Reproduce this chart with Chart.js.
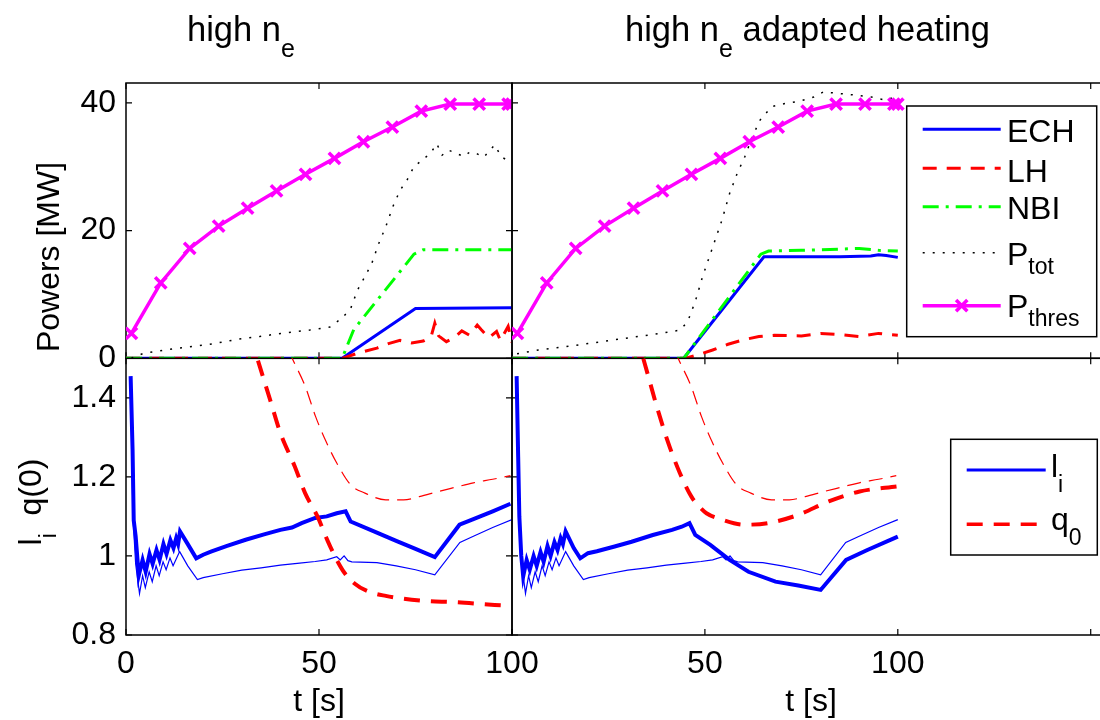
<!DOCTYPE html>
<html>
<head>
<meta charset="utf-8">
<script src="https://cdn.jsdelivr.net/npm/chart.js@4.4.1/dist/chart.umd.min.js"></script>
<style>
html, body { margin:0; padding:0; background:#fff; overflow:hidden; }
#wrap { position:relative; width:1100px; height:720px; overflow:hidden; }
canvas { position:absolute; left:0; top:0; }
.t { position:absolute; font-family:'Liberation Sans', Arial, sans-serif; font-size:32px; line-height:32px; white-space:nowrap; color:#000; }
.ttl { font-size:34.5px; line-height:34.5px; }
.s { font-size:23px; position:relative; line-height:0; }
.ttl .s { font-size:25px; }
.rot { transform-origin:0 0; transform:rotate(-90deg) translateX(-50%); }
.ctr { transform:translateX(-50%); }
</style>
</head>
<body>
<div id="wrap">
<canvas id="tl" width="1100" height="720"></canvas>
<canvas id="tr" width="1120" height="720"></canvas>
<canvas id="bl" width="1100" height="720"></canvas>
<canvas id="br" width="1120" height="720"></canvas>

<div class="t ttl" style="left:187px;top:11.5px">high n<span class="s" style="top:16px">e</span></div>
<div class="t ttl" style="left:625px;top:11.5px">high n<span class="s" style="top:16px">e</span> adapted heating</div>
<div class="t rot" style="left:32px;top:257px">Powers [MW]</div>
<div class="t rot" style="left:14px;top:502px">l<span class="s" style="top:15px">i</span>&nbsp;&nbsp;q(0)</div>
<div class="t ctr" style="left:319px;top:684px">t [s]</div>
<div class="t ctr" style="left:811px;top:684px">t [s]</div>

<div class="t" style="left:1007px;top:114.6px">ECH</div>
<div class="t" style="left:1007px;top:154.6px">LH</div>
<div class="t" style="left:1007px;top:192.2px">NBI</div>
<div class="t" style="left:1007px;top:237.9px">P<span class="s" style="top:9px">tot</span></div>
<div class="t" style="left:1007px;top:289.6px">P<span class="s" style="top:9px">thres</span></div>
<div class="t" style="left:1051px;top:449.6px">l<span class="s" style="top:15px">i</span></div>
<div class="t" style="left:1051px;top:502.9px">q<span class="s" style="top:15px">0</span></div>
</div>

<script>
// ---- data (t in s, powers in MW) ----
var tThres = [1.4, 9, 16.5, 24, 31.5, 39, 46.5, 54, 61.5, 69, 76.5, 84, 91.5, 99, 100];
var pThres = [3.9, 11.8, 17.2, 20.7, 23.5, 26.2, 28.8, 31.3, 33.9, 36.2, 38.7, 39.8, 39.8, 39.8, 39.8];

// left: high ne
var tEchA = [0, 56, 75, 100];
var pEchA = [0, 0, 7.8, 7.9];
var tLhA = [0, 56, 60, 65, 68, 71, 74, 77, 79, 80, 81, 83, 85, 87, 89, 91, 92, 94, 96, 97, 99, 100];
var pLhA = [0, 0, 0.8, 1.6, 2.3, 2.8, 2.4, 2.7, 3.3, 5.5, 3.5, 2.6, 3.2, 4.3, 3.6, 5.2, 4.5, 3.2, 4.2, 2.8, 5.0, 2.5];
var tNbiA = [0, 56, 59, 74.6, 77, 100];
var pNbiA = [0, 0, 4.5, 16.3, 17, 17];
var tTotA = [1.4, 4.6, 10.1, 16.4, 22.8, 29.1, 34.6, 40.1, 47.3, 52.8, 56, 58.2, 60, 61.9, 63.7, 65.5, 67.3, 69.1, 71, 72.8, 74.6, 77.3, 79, 80.5, 81.9, 83.5, 85.5, 87.5, 89.1, 91, 92.7, 94, 95.5, 97.3, 99.5];
var pTotA = [0, 0.8, 1.3, 1.8, 2.3, 3.0, 3.4, 3.9, 4.4, 4.9, 6.3, 7.8, 10.7, 12.8, 14.9, 18, 20.6, 23.7, 26.3, 27.9, 30, 31.3, 32.2, 33.6, 31.8, 32.6, 32.1, 31.6, 32.3, 32, 31.5, 32.4, 33.4, 31.5, 30.8];

// right: high ne adapted heating
var tEchB = [0, 44.5, 65.3, 75, 85, 93, 95, 97, 100];
var pEchB = [0, 0, 15.9, 15.9, 15.9, 16.0, 16.2, 16.1, 15.8];
var tLhB = [0, 45, 48, 52, 56, 60, 64, 68, 75, 80, 85, 90, 95, 100];
var pLhB = [0, 0, 0.5, 1.3, 2.2, 2.9, 3.4, 3.6, 3.5, 3.9, 3.7, 3.4, 3.9, 3.6];
var tNbiB = [0, 44.5, 64.5, 66.5, 75, 85, 90, 95, 100];
var pNbiB = [0, 0, 16.3, 16.8, 16.9, 17.1, 17.2, 16.9, 16.8];
var tTotB = [1.3, 6.8, 13.7, 19.7, 26.6, 32.6, 38.5, 43.5, 45.5, 47.5, 49.4, 51.9, 54.4, 56.4, 58.4, 60.3, 62.3, 64.3, 67.3, 70.8, 74.2, 78.2, 80.7, 84.1, 89.1, 93.1, 97, 99];
var pTotB = [0.7, 1.3, 1.8, 2.3, 2.9, 3.4, 3.9, 4.4, 5.7, 8.9, 12.8, 17.2, 21.6, 25.8, 29, 31.5, 34.7, 37.3, 39.4, 39.9, 40.2, 40.9, 41.7, 41.5, 41.2, 40.9, 40.4, 40.9];

// bottom: reference run (thin lines, same in both columns)
var tLiRef = [1.2, 1.8, 2.5, 3.5, 4.3, 5.0, 6.0, 6.8, 7.8, 8.6, 9.6, 10.4, 11.4, 12.2, 13.9, 16, 18.5, 20, 25, 30, 35, 40, 45, 49, 52, 54.6, 55.5, 56.5, 57.5, 58.5, 65, 70, 75, 80, 86.5, 90, 95, 100];
var liRef = [1.44, 1.1, 0.98, 0.905, 0.95, 0.92, 0.96, 0.935, 0.975, 0.95, 0.985, 0.965, 0.995, 0.975, 1.011, 0.975, 0.94, 0.945, 0.955, 0.964, 0.97, 0.977, 0.982, 0.986, 0.99, 0.998, 0.99, 1.0, 0.988, 0.985, 0.983, 0.975, 0.965, 0.952, 1.034, 1.05, 1.072, 1.092];
var tQRef = [40, 43.2, 46.4, 49.1, 51.8, 54.6, 58.2, 61.9, 67.3, 71.9, 76, 80.9, 85, 90, 95, 99.6];
var qRef = [1.57, 1.497, 1.43, 1.353, 1.29, 1.235, 1.18, 1.159, 1.142, 1.142, 1.15, 1.163, 1.173, 1.185, 1.194, 1.203];

var tLiA = [1.2, 1.7, 2.0, 2.5, 3.3, 4.3, 5.1, 6.1, 6.9, 7.9, 8.7, 9.7, 10.5, 11.5, 12.3, 13.0, 13.5, 14.0, 16, 18.2, 20, 22, 26, 31, 36, 40, 43, 45.5, 49, 52, 54.6, 56.9, 58.2, 65, 70, 75, 80, 86.4, 90, 95, 99.6];
var liA = [1.455, 1.27, 1.09, 1.05, 0.95, 0.99, 0.96, 1.005, 0.98, 1.015, 0.99, 1.03, 1.005, 1.04, 1.02, 1.045, 1.03, 1.062, 1.03, 0.994, 1.003, 1.011, 1.025, 1.041, 1.055, 1.066, 1.072, 1.083, 1.096, 1.1, 1.108, 1.113, 1.087, 1.059, 1.038, 1.018, 0.997, 1.079, 1.093, 1.113, 1.132];
var tQA = [28, 34.1, 37.3, 40, 43.7, 46.4, 49.6, 52.3, 54.6, 56.4, 59.1, 62.8, 67.3, 76.4, 85.5, 95.5, 99.5];
var qA = [1.69, 1.497, 1.396, 1.311, 1.227, 1.159, 1.1, 1.037, 0.99, 0.96, 0.931, 0.91, 0.899, 0.887, 0.883, 0.876, 0.874];

var tLiB = [1.2, 1.6, 1.9, 2.4, 2.9, 3.8, 4.6, 5.6, 6.4, 7.4, 8.2, 9.2, 10.0, 11.0, 11.8, 12.6, 13.2, 13.9, 16, 17.7, 19.7, 22, 26.6, 31, 36.5, 41.5, 44, 46, 47.5, 51.4, 56.4, 61.3, 68.3, 74.2, 80, 86.6, 92.1, 100];
var liB = [1.455, 1.25, 1.1, 1.0, 0.948, 0.99, 0.965, 1.0, 0.975, 1.01, 0.985, 1.025, 1.0, 1.035, 1.015, 1.045, 1.03, 1.062, 1.02, 0.994, 1.007, 1.012, 1.024, 1.036, 1.053, 1.066, 1.074, 1.083, 1.053, 1.028, 0.99, 0.96, 0.935, 0.925, 0.914, 0.99, 1.015, 1.049];
var tQB = [30, 34.1, 37.5, 40.5, 43.5, 46.5, 48.5, 50.4, 54.4, 60.3, 66.3, 74.2, 82.1, 90.1, 100];
var qB = [1.63, 1.497, 1.379, 1.286, 1.21, 1.15, 1.125, 1.108, 1.092, 1.079, 1.083, 1.104, 1.138, 1.163, 1.176];

// ticks
var xTicksL = [0, 50, 100];
var xLabelsL = ['0', '50', '100'];
var xTicksR = [0, 50, 100, 150];
var xLabelsR = ['', '50', '100', ''];
var yTicksP = [0, 20, 40];
var yLabelsP = ['0', '20', '40'];
var yTicksQ = [0.8, 1, 1.2, 1.4];
var yLabelsQ = ['0.8', '1', '1.2', '1.4'];

// ---- helpers ----
var FONT = "'Liberation Sans', Arial, sans-serif";
var TICK = 6;

function pts(t, v) {
  return t.map(function(x, i) { return {x: x, y: v[i]}; });
}

var boxPlugin = {
  id: 'box',
  beforeDatasetsDraw: function(chart) {
    var ctx = chart.ctx, a = chart.chartArea, x = chart.scales.x, y = chart.scales.y;
    ctx.save();
    ctx.strokeStyle = '#000';
    ctx.lineWidth = 1.5;
    ctx.strokeRect(a.left, a.top, a.right - a.left, a.bottom - a.top);
    ctx.beginPath();
    x.ticks.forEach(function(t) {
      var px = x.getPixelForValue(t.value);
      ctx.moveTo(px, a.top); ctx.lineTo(px, a.top + TICK);
      ctx.moveTo(px, a.bottom); ctx.lineTo(px, a.bottom - TICK);
    });
    y.ticks.forEach(function(t) {
      var py = y.getPixelForValue(t.value);
      ctx.moveTo(a.left, py); ctx.lineTo(a.left + TICK, py);
      ctx.moveTo(a.right, py); ctx.lineTo(a.right - TICK, py);
    });
    ctx.lineWidth = 1.2;
    ctx.stroke();
    ctx.restore();
  }
};

var legPlugin = {
  id: 'mleg',
  afterDraw: function(chart, args, o) {
    if (!o || !o.box) return;
    var ctx = chart.ctx, b = o.box;
    ctx.save();
    ctx.fillStyle = '#fff';
    ctx.fillRect(b[0], b[1], b[2] - b[0], b[3] - b[1]);
    ctx.strokeStyle = '#000';
    ctx.lineWidth = 1.5;
    ctx.strokeRect(b[0], b[1], b[2] - b[0], b[3] - b[1]);
    o.items.forEach(function(it) {
      var ds = chart.data.datasets[it.ds];
      ctx.strokeStyle = ds.borderColor;
      ctx.lineWidth = it.w || ds.borderWidth;
      ctx.setLineDash(ds.borderDash || []);
      ctx.beginPath();
      ctx.moveTo(o.x0, it.y); ctx.lineTo(o.x1, it.y);
      ctx.stroke();
      ctx.setLineDash([]);
      if (ds.pointRadius) {
        var cx = (o.x0 + o.x1) / 2, r = ds.pointRadius * 0.707;
        ctx.lineWidth = ds.pointBorderWidth;
        ctx.beginPath();
        ctx.moveTo(cx - r, it.y - r); ctx.lineTo(cx + r, it.y + r);
        ctx.moveTo(cx - r, it.y + r); ctx.lineTo(cx + r, it.y - r);
        ctx.stroke();
      }
    });
    ctx.restore();
  }
};

function scaleX(max, ticks, labels, showLabels, h) {
  return {
    type: 'linear', min: 0, max: max,
    grid: {display: false, drawTicks: false}, border: {display: false},
    ticks: {display: showLabels, padding: 10, color: '#000', maxRotation: 0, autoSkip: false,
      font: {family: FONT, size: 32},
      callback: function(v, i) { return labels[i]; }},
    afterBuildTicks: function(s) { s.ticks = ticks.map(function(v) { return {value: v}; }); },
    afterFit: function(s) { s.height = h; s.paddingLeft = 0; s.paddingRight = 0; }
  };
}

function scaleY(min, max, ticks, labels, showLabels, w) {
  return {
    min: min, max: max,
    grid: {display: false, drawTicks: false}, border: {display: false},
    ticks: {display: showLabels, padding: 10, color: '#000', autoSkip: false,
      font: {family: FONT, size: 32},
      callback: function(v, i) { return labels[i]; }},
    afterBuildTicks: function(s) { s.ticks = ticks.map(function(v) { return {value: v}; }); },
    afterFit: function(s) { s.width = w; s.paddingTop = 0; s.paddingBottom = 0; }
  };
}

function makeChart(id, datasets, pad, sx, sy, leg) {
  return new Chart(document.getElementById(id), {
    type: 'line',
    data: {datasets: datasets},
    options: {
      responsive: false, animation: false, devicePixelRatio: 1,
      parsing: false, normalized: true,
      layout: {autoPadding: false, padding: pad},
      elements: {point: {radius: 0}, line: {tension: 0}},
      plugins: {legend: {display: false}, tooltip: {enabled: false}, mleg: leg || {}},
      events: [],
      scales: {x: sx, y: sy}
    },
    plugins: [boxPlugin, legPlugin]
  });
}

function powerSets(tE, pE, tL, pL, tN, pN, tT, pT) {
  return [
    {label: 'ECH', data: pts(tE, pE), borderColor: '#0000ff', borderWidth: 3, order: 5},
    {label: 'LH', data: pts(tL, pL), borderColor: '#ff0000', borderWidth: 3, borderDash: [14, 10], order: 4},
    {label: 'NBI', data: pts(tN, pN), borderColor: '#00ff00', borderWidth: 3, borderDash: [16, 7, 3, 7], order: 3},
    {label: 'Ptot', data: pts(tT, pT), borderColor: '#000000', borderWidth: 1.5, borderDash: [2, 8], order: 2},
    {label: 'Pthres', data: pts(tThres, pThres), borderColor: '#ff00ff', borderWidth: 3.5, order: 1,
      pointRadius: 8, pointStyle: 'crossRot', pointBorderWidth: 3.5, pointBorderColor: '#ff00ff'}
  ];
}

function qSets(tLi, li, tQ, q) {
  return [
    {label: 'li', data: pts(tLi, li), borderColor: '#0000ff', borderWidth: 4, order: 2},
    {label: 'q0', data: pts(tQ, q), borderColor: '#ff0000', borderWidth: 4, borderDash: [16, 11], order: 1,
      cubicInterpolationMode: 'monotone'},
    {label: 'li ref', data: pts(tLiRef, liRef), borderColor: '#0000ff', borderWidth: 1.2, order: 4},
    {label: 'q0 ref', data: pts(tQRef, qRef), borderColor: '#ff0000', borderWidth: 1.2, borderDash: [14, 8], order: 3,
      cubicInterpolationMode: 'monotone'}
  ];
}

// top left
makeChart('tl', powerSets(tEchA, pEchA, tLhA, pLhA, tNbiA, pNbiA, tTotA, pTotA),
  {left: 0, top: 83, right: 588, bottom: 361.7},
  scaleX(100, xTicksL, xLabelsL, false, 0),
  scaleY(0, 43.1, yTicksP, yLabelsP, true, 126));

// top right
makeChart('tr', powerSets(tEchB, pEchB, tLhB, pLhB, tNbiB, pNbiB, tTotB, pTotB),
  {left: 512, top: 83, right: 10, bottom: 361.7},
  scaleX(155, xTicksR, xLabelsR, false, 0),
  scaleY(0, 43.1, yTicksP, yLabelsP, false, 0),
  {box: [906.7, 106, 1096.7, 336.7], x0: 922.7, x1: 1000.7,
   items: [{ds: 0, y: 129.3}, {ds: 1, y: 168.3}, {ds: 2, y: 206.7}, {ds: 3, y: 252.7}, {ds: 4, y: 305.7}]});

// bottom left
makeChart('bl', qSets(tLiA, liA, tQA, qA),
  {left: 0, top: 358.3, right: 588, bottom: 0},
  scaleX(100, xTicksL, xLabelsL, true, 85),
  scaleY(0.8, 1.5, yTicksQ, yLabelsQ, true, 126));

// bottom right
makeChart('br', qSets(tLiB, liB, tQB, qB),
  {left: 512, top: 358.3, right: 10, bottom: 0},
  scaleX(155, xTicksR, xLabelsR, true, 85),
  scaleY(0.8, 1.5, yTicksQ, yLabelsQ, false, 0),
  {box: [950.7, 439.3, 1097.3, 555], x0: 966.7, x1: 1045.7,
   items: [{ds: 0, y: 470, w: 3}, {ds: 1, y: 524.3, w: 3.5}]});
</script>
</body>
</html>
